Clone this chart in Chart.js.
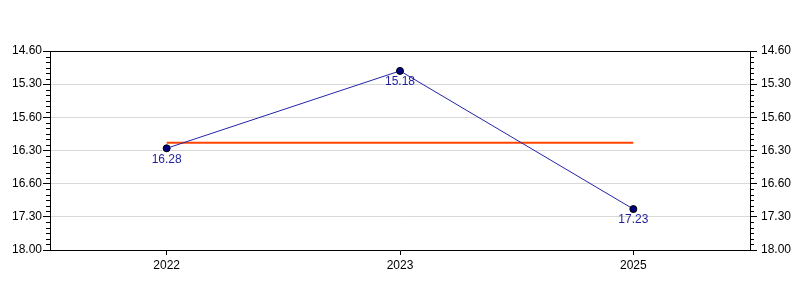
<!DOCTYPE html>
<html lang="en">
<head>
<meta charset="UTF-8">
<title>Times per year</title>
<script src="https://cdn.jsdelivr.net/npm/chart.js"></script>
<style>body { margin: 0; background: #fff; }</style>
</head>
<body>
<canvas id="chart" width="800" height="300"></canvas>
<script>
// values in minutes, labels written as min.sec
const years = ['2022', '2023', '2025'];
const times = [16.467, 15.3, 17.383];
const timeLabels = ['16.28', '15.18', '17.23'];
const average = [16.383, 16.383, 16.383];
const yTicks = [15, 15.5, 16, 16.5, 17, 17.5, 18];
const yTickLabels = ['14.60', '15.30', '15.60', '16.30', '16.60', '17.30', '18.00'];

Chart.defaults.font.family = '"Liberation Sans", Arial, sans-serif';
Chart.defaults.font.size = 12;
Chart.defaults.color = '#000';

function tickLabel(value) {
    const i = yTicks.findIndex(t => Math.abs(t - value) < 1e-6);
    return i >= 0 ? yTickLabels[i] : '';
}

function gridColor(c) {
    const v = c.tick ? c.tick.value : null;
    if (v === yTicks[0] || v === yTicks[yTicks.length - 1]) return 'rgba(0,0,0,0)';
    return '#d9d9d9';
}

// top border, minor ticks and point labels
const extras = {
    id: 'extras',
    afterDraw(chart) {
        const ctx = chart.ctx;
        const a = chart.chartArea;
        const y = chart.scales.y;
        ctx.save();
        ctx.strokeStyle = '#000';
        ctx.lineWidth = 1;
        ctx.beginPath();
        ctx.moveTo(a.left, Math.round(a.top) + 0.5);
        ctx.lineTo(a.right, Math.round(a.top) + 0.5);
        for (let i = 0; i < yTicks.length - 1; i++) {
            for (let k = 1; k < 6; k++) {
                const v = yTicks[i] + (yTicks[i + 1] - yTicks[i]) * k / 6;
                const py = Math.round(y.getPixelForValue(v)) + 0.5;
                ctx.moveTo(a.left - 4, py);
                ctx.lineTo(a.left, py);
                ctx.moveTo(a.right, py);
                ctx.lineTo(a.right + 4, py);
            }
        }
        ctx.stroke();

        ctx.fillStyle = '#1f1f9e';
        ctx.font = '12px "Liberation Sans", Arial, sans-serif';
        ctx.textAlign = 'center';
        ctx.textBaseline = 'top';
        chart.getDatasetMeta(0).data.forEach((p, i) => {
            ctx.fillText(timeLabels[i], p.x, p.y + 5);
        });
        ctx.restore();
    }
};

new Chart(document.getElementById('chart'), {
    type: 'line',
    data: {
        labels: years,
        datasets: [{
            label: 'Time',
            data: times,
            borderColor: '#2323a8',
            borderWidth: 1,
            pointBackgroundColor: '#000080',
            pointBorderColor: '#000',
            pointBorderWidth: 1,
            pointRadius: 3.5,
            tension: 0
        }, {
            label: 'Average',
            data: average,
            borderColor: '#ff4500',
            borderWidth: 2,
            pointRadius: 0,
            tension: 0
        }]
    },
    options: {
        responsive: false,
        animation: false,
        layout: { padding: { top: 51, left: 0, right: 0, bottom: 0 } },
        plugins: {
            legend: { display: false },
            tooltip: { enabled: false }
        },
        scales: {
            x: {
                offset: true,
                grid: {
                    offset: false,
                    drawOnChartArea: false,
                    tickLength: 5,
                    tickColor: '#000'
                },
                border: { color: '#000' },
                ticks: { padding: 3 },
                afterFit: s => { s.height = 50; }
            },
            y: {
                position: 'left',
                reverse: true,
                min: 15,
                max: 18,
                grid: {
                    color: gridColor,
                    tickColor: '#000',
                    tickLength: 7
                },
                border: { color: '#000' },
                ticks: { stepSize: 0.5, padding: 1, callback: tickLabel },
                afterFit: s => { s.width = 50; }
            },
            y2: {
                position: 'right',
                reverse: true,
                min: 15,
                max: 18,
                grid: {
                    drawOnChartArea: false,
                    tickColor: '#000',
                    tickLength: 7
                },
                border: { color: '#000' },
                ticks: { stepSize: 0.5, padding: 4, callback: tickLabel },
                afterFit: s => { s.width = 50; }
            }
        }
    },
    plugins: [extras]
});
</script>
</body>
</html>
